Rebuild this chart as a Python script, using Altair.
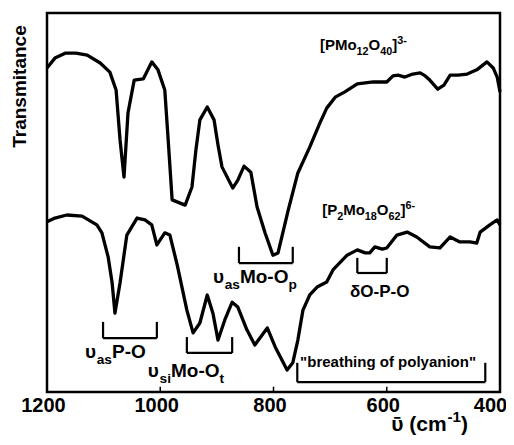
import altair as alt
import pandas as pd

# ---------------- spectra (wavenumber in cm-1, transmittance in arbitrary units 0-100)
wn_pmo12 = [1200, 1186, 1168, 1149, 1129, 1106, 1089, 1078, 1071, 1064, 1057, 1046, 1030, 1015, 1004,
            992, 986, 979, 956, 944, 937, 930, 917, 905, 898, 891, 872, 863, 852, 840,
            829, 815, 801, 792, 774, 757, 736, 718, 706, 691, 674, 652, 624, 600, 589,
            580, 568, 554, 541, 532, 524, 510, 499, 488, 474, 458, 441, 423, 412, 405, 400]
t_pmo12 = [85.5, 88.1, 89.4, 89.4, 88.9, 86.8, 84.4, 79.7, 66.5, 56.7, 73.6, 82.3, 82.6, 87.1, 85.0,
           79.7, 66.5, 50.7, 49.3, 54.1, 63.9, 71.8, 75.2, 71.8, 65.2, 59.4, 53.8, 55.9, 59.6, 58.0,
           48.8, 42.0, 36.1, 36.7, 48.0, 57.8, 64.6, 71.0, 74.9, 77.8, 79.2, 81.3, 81.8, 81.8, 83.4,
           83.6, 83.1, 83.9, 84.2, 83.4, 82.3, 79.9, 81.0, 83.6, 83.6, 83.9, 85.0, 87.1, 85.5, 83.1, 79.2]

wn_p2mo18 = [1200, 1186, 1165, 1138, 1112, 1103, 1092, 1085, 1080, 1071, 1059, 1041, 1027, 1015, 1006,
             992, 983, 970, 953, 942, 930, 917, 907, 898, 886, 873, 863, 847, 833, 811,
             797, 776, 766, 757, 748, 736, 723, 706, 695, 670, 652, 638, 630, 621, 608,
             600, 582, 564, 547, 524, 506, 488, 471, 453, 441, 435, 418, 405, 400]
t_p2mo18 = [44.9, 45.9, 46.7, 46.4, 44.1, 42.0, 35.6, 28.8, 20.8, 28.8, 41.4, 45.9, 45.4, 44.1, 38.8,
            42.0, 41.4, 33.5, 21.6, 15.6, 18.2, 25.6, 20.8, 13.7, 19.0, 23.7, 22.4, 16.4, 12.4, 16.9,
            11.9, 5.8, 7.7, 13.7, 21.6, 25.6, 27.7, 29.0, 32.2, 36.1, 37.5, 36.7, 36.7, 38.3, 37.7,
            38.0, 41.4, 42.2, 40.9, 38.3, 38.0, 40.9, 39.6, 39.6, 39.3, 42.2, 44.1, 45.4, 44.1]

# ---------------- axis
x_tick_values = [1200, 1000, 800, 600, 400]
inner_ticks = [1000, 800, 600]

# ---------------- band brackets
br_left = [1101, 953, 861, 652, 758]
br_right = [1006, 873, 766, 600, 426]
br_top = [18.5, 14.5, 38.3, 35.4, 7.7]
br_bottom = [14.2, 10.3, 34.0, 31.4, 2.6]

# ---------------- labels (segments: normal / subscript / superscript)
label_parts = [
    [("[PMo", "n"), ("12", "sub"), ("O", "n"), ("40", "sub"), ("]", "n"), ("3-", "sup")],
    [("[P", "n"), ("2", "sub"), ("Mo", "n"), ("18", "sub"), ("O", "n"), ("62", "sub"), ("]", "n"), ("6-", "sup")],
    [("\u03c5", "n"), ("as", "sub"), ("P-O", "n")],
    [("\u03c5", "n"), ("si", "sub"), ("Mo-O", "n"), ("t", "sub")],
    [("\u03c5", "n"), ("as", "sub"), ("Mo-O", "n"), ("p", "sub")],
    [("\u03b4O-P-O", "n")],
    [("\"breathing of polyanion\"", "n")],
    [("\u1fe1 (cm", "n"), ("-1", "sup"), (")", "n")],
]
label_wn = [718, 714, 1133, 1022, 907, 665, 753, 592]
label_t = [90.2, 46.7, 9.0, 4.0, 28.8, 25.1, 6.6, -10.3]
label_size = [15, 15, 19, 19, 19, 17, 15, 21]

# ---------------- layout constants
PLOT_W, PLOT_H = 453, 379
FONT = "Liberation Sans"
PX_PER_WN = PLOT_W / (max(x_tick_values) - min(x_tick_values))
PX_PER_T = PLOT_H / 100.0

W = {' ': .278, '"': .474, '(': .333, ')': .333, '-': .333, 'O': .778, 'P': .667, 'M': .833,
     '[': .333, ']': .333, 'a': .556, 'b': .611, 'c': .556, 'e': .556, 'f': .333, 'g': .611,
     'h': .611, 'i': .278, 'l': .278, 'm': .889, 'n': .611, 'o': .611, 'p': .611, 'r': .389,
     's': .556, 't': .333, 'y': .556, '\u03c5': .62, '\u03b4': .611, '\u1fe1': .62}


def text_width(s, size):
    return sum(W.get(ch, .556) for ch in s) * size


seg_rows = []
for parts, wn0, t0, fs in zip(label_parts, label_wn, label_t, label_size):
    off = 0.0
    for txt, kind in parts:
        size = fs if kind == "n" else round(fs * 0.72, 1)
        shift = 0.0
        if kind == "sub":
            shift = 0.3 * fs
        elif kind == "sup":
            shift = -0.42 * fs
        seg_rows.append({"wn": wn0 - off / PX_PER_WN, "t": t0 - shift / PX_PER_T,
                         "label": txt, "fs": size})
        off += text_width(txt, size)
seg_df = pd.DataFrame(seg_rows)

spec_df = pd.concat([
    pd.DataFrame({"wn": wn_pmo12, "t": t_pmo12, "series": "PMo12O40"}),
    pd.DataFrame({"wn": wn_p2mo18, "t": t_p2mo18, "series": "P2Mo18O62"}),
])

vert_df = pd.DataFrame({"wn": br_left + br_right, "t": br_top + br_top, "t2": br_bottom + br_bottom})
horiz_df = pd.DataFrame({"wn": br_left, "wn2": br_right, "t": br_bottom})
tick_df = pd.DataFrame({"wn": inner_ticks, "t": [0] * len(inner_ticks), "t2": [1.4] * len(inner_ticks)})

x_enc = alt.X("wn:Q",
              scale=alt.Scale(domain=[min(x_tick_values), max(x_tick_values)], reverse=True, nice=False, zero=False),
              axis=alt.Axis(values=x_tick_values, title=None, ticks=False, domain=False, grid=False,
                            labelFontSize=20, labelFont=FONT, labelFontWeight="bold", labelColor="black",
                            labelPadding=3, labelFlush=False,
                            labelOffset=alt.expr("datum.value == 400 ? -10 : -4"), format="d"))
y_enc = alt.Y("t:Q",
              scale=alt.Scale(domain=[0, 100], nice=False, zero=False),
              axis=alt.Axis(title="Transmitance", labels=False, ticks=False, domain=False, grid=False,
                            titleFontSize=19, titleFont=FONT, titleFontWeight="bold", titleColor="black",
                            titleX=-22, titleY=73, titleAngle=270, titleBaseline="alphabetic",
                            titleAlign="center"))

lines = alt.Chart(spec_df).mark_line(color="black", strokeWidth=3.3, strokeJoin="round").encode(
    x=x_enc, y=y_enc, detail="series:N")

verts = alt.Chart(vert_df).mark_rule(color="black", strokeWidth=2.2).encode(
    x=x_enc, y=y_enc, y2="t2:Q")
horiz = alt.Chart(horiz_df).mark_rule(color="black", strokeWidth=2.2).encode(
    x=x_enc, x2="wn2:Q", y=y_enc)
ticks = alt.Chart(tick_df).mark_rule(color="black", strokeWidth=1.5).encode(
    x=x_enc, y=y_enc, y2="t2:Q")

texts = alt.Chart(seg_df).mark_text(align="left", baseline="alphabetic", font=FONT,
                                    fontWeight="bold", color="black").encode(
    x=x_enc, y=y_enc, text="label:N", size=alt.Size("fs:Q", scale=None, legend=None))

chart = alt.layer(lines, verts, horiz, ticks, texts).properties(
    width=PLOT_W, height=PLOT_H,
    autosize=alt.AutoSizeParams(type="none"),
    padding={"left": 39, "top": 5, "right": 6, "bottom": 44},
).configure_view(stroke="black", strokeWidth=2.5)

chart.save("out.html", embed_options={"renderer": "svg", "actions": False})
